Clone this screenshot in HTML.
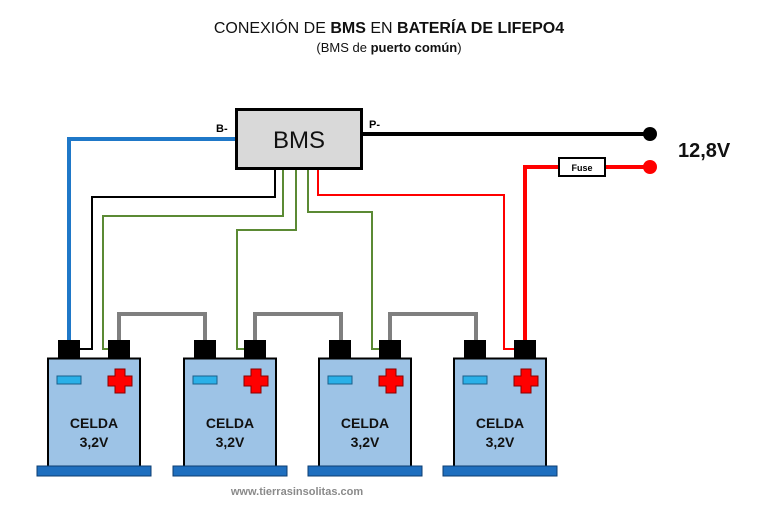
<!DOCTYPE html>
<html><head><meta charset="utf-8"><style>
html,body{margin:0;padding:0;background:#fff;}
svg{display:block;font-family:"Liberation Sans",sans-serif;}
</style></head><body>
<svg width="768" height="512" viewBox="0 0 768 512" xmlns="http://www.w3.org/2000/svg">
<rect width="768" height="512" fill="#fff"/>
<text x="389" y="33" font-size="16" text-anchor="middle" fill="#111">CONEXIÓN DE <tspan font-weight="bold">BMS</tspan> EN <tspan font-weight="bold">BATERÍA DE LIFEPO4</tspan></text>
<text x="389" y="52" font-size="13" text-anchor="middle" fill="#111">(BMS de <tspan font-weight="bold">puerto común</tspan>)</text>

<g fill="none" stroke-linejoin="miter">
<!-- blue -->
<polyline points="235,139 69,139 69,342" stroke="#1f78c8" stroke-width="4"/>
<!-- black thin -->
<polyline points="275,169 275,197 92,197 92,349 80,349" stroke="#000" stroke-width="2"/>
<!-- greens -->
<polyline points="283,169 283,216 103,216 103,349 109,349" stroke="#5b8a34" stroke-width="2"/>
<polyline points="296,169 296,230 237,230 237,349 244,349" stroke="#5b8a34" stroke-width="2"/>
<polyline points="308,169 308,212 372,212 372,349 380,349" stroke="#5b8a34" stroke-width="2"/>
<!-- red thin -->
<polyline points="318,169 318,195 504,195 504,349 514,349" stroke="#f00" stroke-width="2"/>
<!-- red thick -->
<polyline points="525,342 525,167 652,167" stroke="#f00" stroke-width="4"/>
<!-- P- -->
<line x1="362" y1="134" x2="652" y2="134" stroke="#000" stroke-width="4"/>
<!-- gray jumpers -->
<polyline points="119,342 119,314 205,314 205,342" stroke="#7f7f7f" stroke-width="4"/>
<polyline points="255,342 255,314 341,314 341,342" stroke="#7f7f7f" stroke-width="4"/>
<polyline points="390,342 390,314 476,314 476,342" stroke="#7f7f7f" stroke-width="4"/>
</g>
<circle cx="650" cy="134" r="7" fill="#000"/>
<circle cx="650" cy="167" r="7" fill="#f00"/>
<rect x="559" y="158" width="46" height="18" fill="#fff" stroke="#000" stroke-width="2"/>
<text x="582" y="171" font-size="9" font-weight="bold" text-anchor="middle">Fuse</text>
<text x="678" y="157" font-size="20" font-weight="bold" fill="#111">12,8V</text>

<rect x="236.5" y="109.5" width="125" height="59" fill="#d9d9d9" stroke="#000" stroke-width="3"/>
<text x="299" y="148" font-size="24" text-anchor="middle" fill="#111">BMS</text>
<text x="216" y="132" font-size="11" font-weight="bold">B-</text>
<text x="369" y="128" font-size="11" font-weight="bold">P-</text>

<defs>
<g id="cell">
<rect x="58" y="340" width="22" height="19" fill="#000"/>
<rect x="108" y="340" width="22" height="19" fill="#000"/>
<rect x="48" y="358.5" width="92" height="108" fill="#9dc3e6" stroke="#000" stroke-width="2"/>
<rect x="37" y="466" width="114" height="10" fill="#1f6fbf" stroke="#0d3e70" stroke-width="1"/>
<rect x="57" y="376" width="24" height="8" fill="#2ab0e8" stroke="#1a5f8a" stroke-width="1"/>
<path d="M115,369 h10 v7 h7 v10 h-7 v7 h-10 v-7 h-7 v-10 h7 z" fill="#f00" stroke="#800" stroke-width="1"/>
<text x="94" y="428" font-size="14" font-weight="bold" text-anchor="middle" fill="#111">CELDA</text>
<text x="94" y="447" font-size="14" font-weight="bold" text-anchor="middle" fill="#111">3,2V</text>
</g>
</defs>
<use href="#cell"/>
<use href="#cell" x="136"/>
<use href="#cell" x="271"/>
<use href="#cell" x="406"/>

<text x="297" y="495" font-size="11" font-weight="bold" text-anchor="middle" fill="#8a8a8a">www.tierrasinsolitas.com</text>
</svg>
</body></html>
